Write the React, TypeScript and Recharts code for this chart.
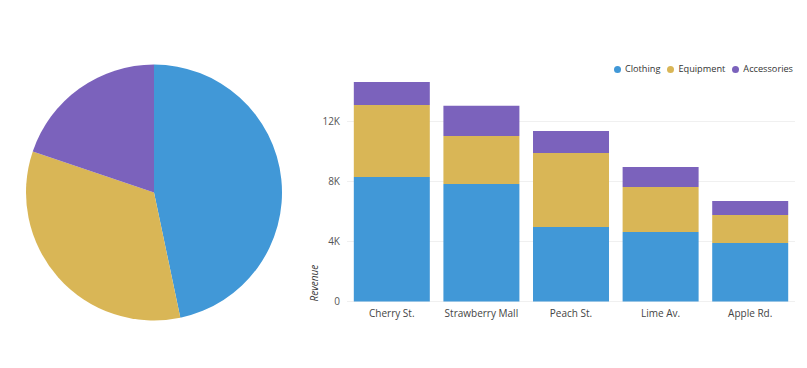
import React from "react";
import { PieChart, Pie, Cell, BarChart, Bar, XAxis, YAxis, CartesianGrid } from "recharts";

const stores = ["Cherry St.", "Strawberry Mall", "Peach St.", "Lime Av.", "Apple Rd."];
const clothing = [8300, 7830, 4970, 4630, 3900];
const equipment = [4800, 3200, 4930, 3000, 1870];
const accessories = [1530, 2020, 1470, 1330, 930];

const seriesNames = ["Clothing", "Equipment", "Accessories"];
const seriesKeys = ["clothing", "equipment", "accessories"];
const colors = ["#4198d7", "#d9b656", "#7b62bc"];

const pieValues = [46.7, 33.5, 19.8];
const yTicks = [0, 4000, 8000, 12000];

const barData = stores.map((s, i) => ({
  store: s,
  clothing: clothing[i],
  equipment: equipment[i],
  accessories: accessories[i],
}));

const pieData = seriesNames.map((n, i) => ({ name: n, value: pieValues[i] }));

const FONT = "'Open Sans', sans-serif";

const fmtK = (v: number) => (v === 0 ? "0" : `${v / 1000}K`);

const LegendBox = () => (
  <div
    style={{
      position: "absolute",
      top: 62,
      right: 14,
      display: "flex",
      alignItems: "center",
      fontFamily: FONT,
      fontSize: 9.2,
      color: "#333",
      lineHeight: "14px",
    }}
  >
    {seriesNames.map((n, i) => (
      <div key={n} style={{ display: "flex", alignItems: "center", marginLeft: i === 0 ? 0 : 7 }}>
        <svg width={7} height={7} style={{ marginRight: 4 }}>
          <circle cx={3.5} cy={3.5} r={3.5} fill={colors[i]} />
        </svg>
        <span>{n}</span>
      </div>
    ))}
  </div>
);

const RevenueLabel = (props: any) => {
  const { viewBox } = props;
  const x = 14;
  const y = viewBox.y + viewBox.height;
  return (
    <text
      x={x}
      y={y}
      transform={`rotate(-90, ${x}, ${y})`}
      textAnchor="start"
      dominantBaseline="central"
      fontFamily={FONT}
      fontSize={10}
      fontStyle="italic"
      fill="#333"
    >
      Revenue
    </text>
  );
};

export default function App() {
  return (
    <div style={{ position: "absolute", left: 0, top: 0, width: 807, height: 368, background: "#fff" }}>
      <div style={{ position: "absolute", left: 0, top: 0 }}>
        <PieChart width={300} height={368} margin={{ top: 0, right: 0, bottom: 0, left: 0 }}>
          <Pie
            data={pieData}
            dataKey="value"
            nameKey="name"
            cx={154}
            cy={192.5}
            outerRadius={128}
            startAngle={90}
            endAngle={-270}
            stroke="none"
            isAnimationActive={false}
          >
            {pieData.map((d, i) => (
              <Cell key={d.name} fill={colors[i]} />
            ))}
          </Pie>
        </PieChart>
      </div>
      <div style={{ position: "absolute", left: 300, top: 0 }}>
        <BarChart
          width={507}
          height={368}
          data={barData}
          margin={{ top: 82, right: 12, bottom: 36.5, left: 0 }}
          barCategoryGap="7.6%"
        >
          <CartesianGrid vertical={false} stroke="#f0f0f0" horizontalValues={yTicks} />
          <XAxis
            dataKey="store"
            axisLine={false}
            tickLine={false}
            tick={{ fontFamily: FONT, fontSize: 10, fill: "#444" }}
            tickMargin={2}
            height={30}
          />
          <YAxis
            domain={[0, "dataMax"]}
            ticks={yTicks}
            tickFormatter={fmtK}
            axisLine={false}
            tickLine={false}
            width={47}
            tick={{ fontFamily: FONT, fontSize: 10, fill: "#555" }}
            tickMargin={1}
            label={<RevenueLabel />}
          />
          {seriesKeys.map((k, i) => (
            <Bar key={k} dataKey={k} name={seriesNames[i]} stackId="a" fill={colors[i]} isAnimationActive={false} />
          ))}
        </BarChart>
      </div>
      <LegendBox />
    </div>
  );
}
